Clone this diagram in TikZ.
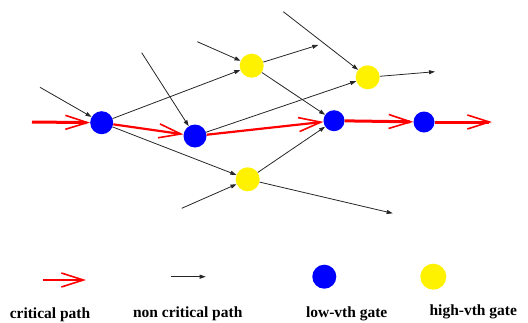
\documentclass[tikz,border=0pt]{standalone}
\usepackage{fontspec}
\setmainfont{Liberation Serif}
\usetikzlibrary{arrows.meta}
\begin{document}
\begin{tikzpicture}[x=1pt,y=-1pt,
  low/.style={circle,fill=blue,inner sep=0pt,minimum size=21pt},
  high/.style={circle,fill=yellow,inner sep=0pt,minimum size=24pt},
  crit/.style={red,line width=3pt,-{Straight Barb[length=22pt,width=14pt,line width=1.6pt]}},
  critd/.style={crit,line width=2.2pt},
  nc/.style={black!85,line width=0.8pt,-{Triangle[length=6pt,width=4pt]}},
  lbl/.style={font=\bfseries\fontsize{15.5}{18}\selectfont,anchor=base,inner sep=0pt}]
\useasboundingbox (0,0) rectangle (528,322);
% gates
\node[low,minimum size=23pt] (b1) at (101.7,122.7) {};
\node[low,minimum size=23pt] (b2) at (195,136) {};
\node[low] (b3) at (334,120.7) {};
\node[low] (b4) at (424,122) {};
\node[high] (y1) at (251.7,65.7) {};
\node[high] (y2) at (367.7,77.3) {};
\node[high] (y3) at (247.7,179.3) {};
% free ends
\coordinate (i1) at (40,87.3);
\coordinate (i2) at (197.3,41.7);
\coordinate (i3) at (141.7,52.7);
\coordinate (i4) at (283.3,11.7);
\coordinate (i5) at (181.7,208.3);
\coordinate (o1) at (318.3,45);
\coordinate (o2) at (435,71.7);
\coordinate (o3) at (392.7,213.3);
\coordinate (r0) at (32,122);
\coordinate (r5) at (492,122);
% non critical
\draw[nc] (i1) -- (b1);
\draw[nc] (b1) -- (y1);
\draw[nc] (i2) -- (y1);
\draw[nc] (y1) -- (o1);
\draw[nc] (i3) -- (b2);
\draw[nc] (y1) -- (b3);
\draw[nc] (i4) -- (y2);
\draw[nc] (b2) -- (y2);
\draw[nc] (y2) -- (o2);
\draw[nc] (b1) -- (y3);
\draw[nc] (i5) -- (y3);
\draw[nc] (y3) -- (b3);
\draw[nc] (y3) -- (o3);
% critical
\draw[crit] (r0) -- (b1);
\draw[critd] (b1) -- (b2);
\draw[critd] (b2) -- (b3);
\draw[crit] (b3) -- (b4);
\draw[crit] (b4) -- (r5);
% legend
\coordinate (lr1) at (42.7,280);
\coordinate (lr2) at (86,280);
\coordinate (lb1) at (170.7,276.7);
\coordinate (lb2) at (205.7,276.7);
\draw[critd] (lr1) -- (lr2);
\draw[nc] (lb1) -- (lb2);
\node[low,minimum size=24pt] (lblue) at (324.3,276.7) {};
\node[high,minimum size=26pt] (lyellow) at (433.3,276.7) {};
\node[lbl] (t1) at (50,318) {critical path};
\node[lbl] (t2) at (187.7,317) {non critical path};
\node[lbl] (t3) at (346.7,317) {low-vth gate};
\node[lbl] (t4) at (473.3,315.5) {high-vth gate};
\end{tikzpicture}
\end{document}
